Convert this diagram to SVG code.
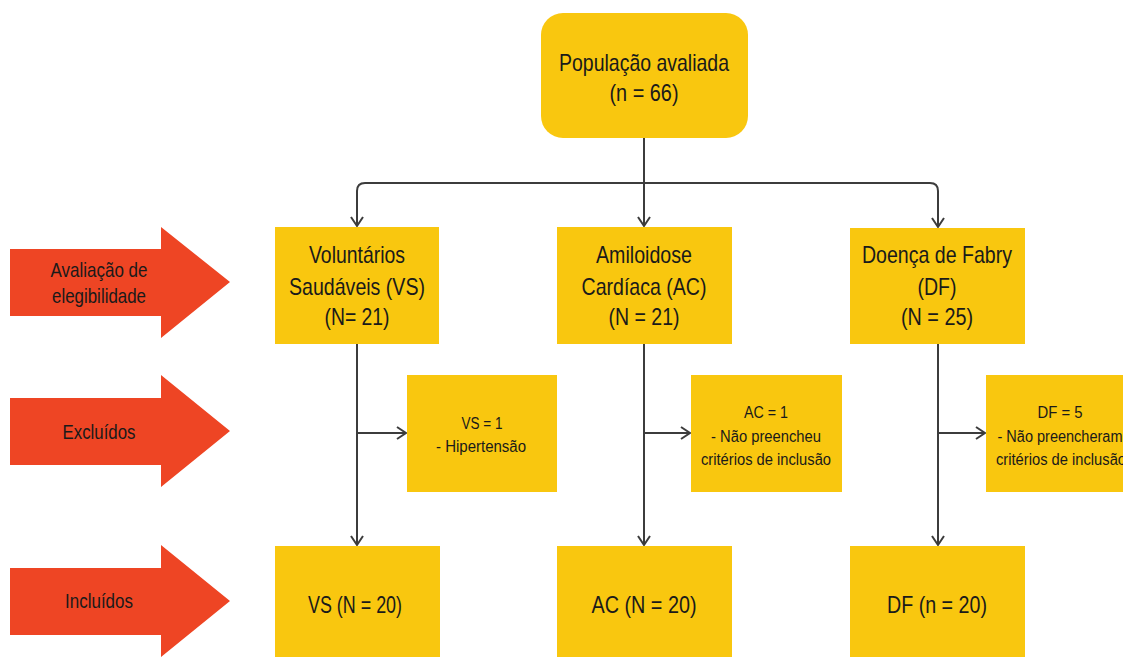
<svg xmlns="http://www.w3.org/2000/svg" width="1123" height="657" viewBox="0 0 1123 657">
<defs>
<style>
.box{fill:#F9C70F}
.red{fill:#EE4524}
.t{font-family:"Liberation Sans",Arial,sans-serif;fill:#1a1a1a;text-anchor:middle}
.big{font-size:24px}
.mid{font-size:21px}
.sm{font-size:16px}
.ln{fill:none;stroke:#3c3c3c;stroke-width:2}
.arr{marker-end:url(#ah)}
</style>
<marker id="ah" viewBox="0 0 12 14" refX="10" refY="7" markerWidth="12" markerHeight="14" markerUnits="userSpaceOnUse" orient="auto">
<path d="M1,1 L10,7 L1,13" fill="none" stroke="#3c3c3c" stroke-width="2"/>
</marker>
</defs>
<rect width="1123" height="657" fill="#ffffff"/>

<g id="side-arrows">
<g id="arrow-elegibilidade">
<polygon class="red" points="10,249 161,249 161,227 230,282 161,338 161,316 10,316"/>
<text class="t mid" x="99" y="277" textLength="97" lengthAdjust="spacingAndGlyphs">Avaliação de</text>
<text class="t mid" x="99" y="303" textLength="94" lengthAdjust="spacingAndGlyphs">elegibilidade</text>
</g>
<g id="arrow-excluidos">
<polygon class="red" points="10,398 161,398 161,375 230,431 161,487 161,465 10,465"/>
<text class="t mid" x="99" y="439" textLength="73" lengthAdjust="spacingAndGlyphs">Excluídos</text>
</g>
<g id="arrow-incluidos">
<polygon class="red" points="10,568 161,568 161,545 230,601 161,657 161,635 10,635"/>
<text class="t mid" x="99" y="608" textLength="68" lengthAdjust="spacingAndGlyphs">Incluídos</text>
</g>
</g>

<g id="connectors">
<path class="ln arr" d="M644,138 V226"/>
<path class="ln arr" d="M644,183 H365 Q357,183 357,191 V226"/>
<path class="ln arr" d="M644,183 H930 Q938,183 938,191 V227"/>
<path class="ln arr" d="M357,344 V545"/>
<path class="ln arr" d="M644,344 V545"/>
<path class="ln arr" d="M938,344 V545"/>
<path class="ln arr" d="M357,433 H406"/>
<path class="ln arr" d="M644,433 H690"/>
<path class="ln arr" d="M938,433 H985"/>
</g>

<g id="populacao">
<rect class="box" x="541" y="13" width="207" height="125" rx="22"/>
<text class="t big" x="644" y="71" textLength="170" lengthAdjust="spacingAndGlyphs">População avaliada</text>
<text class="t big" x="644" y="101" textLength="69" lengthAdjust="spacingAndGlyphs">(n = 66)</text>
</g>

<g id="vs">
<rect class="box" x="275" y="227" width="164" height="117"/>
<text class="t big" x="357" y="263" textLength="96" lengthAdjust="spacingAndGlyphs">Voluntários</text>
<text class="t big" x="357" y="295" textLength="136" lengthAdjust="spacingAndGlyphs">Saudáveis (VS)</text>
<text class="t big" x="357" y="325" textLength="65" lengthAdjust="spacingAndGlyphs">(N= 21)</text>
</g>

<g id="ac">
<rect class="box" x="557" y="227" width="175" height="117"/>
<text class="t big" x="644" y="263" textLength="96" lengthAdjust="spacingAndGlyphs">Amiloidose</text>
<text class="t big" x="644" y="295" textLength="125" lengthAdjust="spacingAndGlyphs">Cardíaca (AC)</text>
<text class="t big" x="644" y="325" textLength="71" lengthAdjust="spacingAndGlyphs">(N = 21)</text>
</g>

<g id="df">
<rect class="box" x="850" y="228" width="175" height="116"/>
<text class="t big" x="937" y="263" textLength="150" lengthAdjust="spacingAndGlyphs">Doença de Fabry</text>
<text class="t big" x="937" y="295" textLength="39" lengthAdjust="spacingAndGlyphs">(DF)</text>
<text class="t big" x="937" y="325" textLength="72" lengthAdjust="spacingAndGlyphs">(N = 25)</text>
</g>

<g id="vs-excl">
<rect class="box" x="407" y="375" width="150" height="117"/>
<text class="t sm" x="482" y="429" textLength="41" lengthAdjust="spacingAndGlyphs">VS = 1</text>
<text class="t sm" x="481" y="452" textLength="90" lengthAdjust="spacingAndGlyphs">- Hipertensão</text>
</g>

<g id="ac-excl">
<rect class="box" x="691" y="375" width="151" height="117"/>
<text class="t sm" x="766" y="418" textLength="44" lengthAdjust="spacingAndGlyphs">AC = 1</text>
<text class="t sm" x="766" y="442" textLength="110" lengthAdjust="spacingAndGlyphs">- Não preencheu</text>
<text class="t sm" x="766" y="465" textLength="130" lengthAdjust="spacingAndGlyphs">critérios de inclusão</text>
</g>

<g id="df-excl">
<rect class="box" x="986" y="375" width="151" height="117"/>
<text class="t sm" x="1060" y="418" textLength="45" lengthAdjust="spacingAndGlyphs">DF = 5</text>
<text class="t sm" x="1060" y="442" textLength="125" lengthAdjust="spacingAndGlyphs">- Não preencheram</text>
<text class="t sm" x="1061" y="465" textLength="130" lengthAdjust="spacingAndGlyphs">critérios de inclusão</text>
</g>

<g id="vs-incl">
<rect class="box" x="275" y="546" width="165" height="120"/>
<text class="t big" x="355" y="613" textLength="94" lengthAdjust="spacingAndGlyphs">VS (N = 20)</text>
</g>

<g id="ac-incl">
<rect class="box" x="557" y="546" width="175" height="120"/>
<text class="t big" x="644" y="613" textLength="105" lengthAdjust="spacingAndGlyphs">AC (N = 20)</text>
</g>

<g id="df-incl">
<rect class="box" x="850" y="546" width="175" height="120"/>
<text class="t big" x="937" y="613" textLength="100" lengthAdjust="spacingAndGlyphs">DF (n = 20)</text>
</g>
</svg>
